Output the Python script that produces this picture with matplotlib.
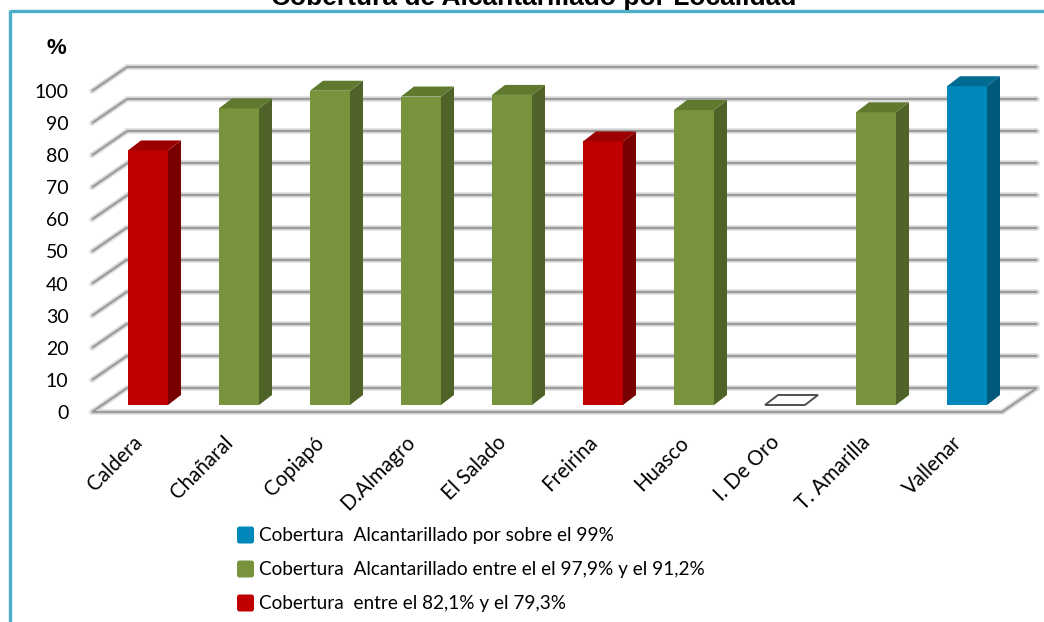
import matplotlib
matplotlib.use("Agg")
import matplotlib.pyplot as plt
from matplotlib.patches import Polygon, FancyBboxPatch
from matplotlib.lines import Line2D

# ---- data -------------------------------------------------------------
localidades = ["Caldera", "Chañaral", "Copiapó", "D.Almagro", "El Salado",
               "Freirina", "Huasco", "I. De Oro", "T. Amarilla", "Vallenar"]
cobertura = [79.3, 92.4, 97.9, 96.1, 96.6, 82.1, 91.9, 0.0, 91.2, 99.3]
grupo = ["bajo", "medio", "medio", "medio", "medio",
         "bajo", "medio", "medio", "medio", "alto"]
y_ticks = [0, 10, 20, 30, 40, 50, 60, 70, 80, 90, 100]

leyenda_grupos = ["alto", "medio", "bajo"]
leyenda_textos = [
    "Cobertura  Alcantarillado por sobre el 99%",
    "Cobertura  Alcantarillado entre el el 97,9% y el 91,2%",
    "Cobertura  entre el 82,1% y el 79,3%",
]
titulo = "Cobertura de Alcantarillado por Localidad"

# ---- styling ----------------------------------------------------------
colores = {
    "alto":  {"front": "#0088BB", "side": "#00587A", "top": "#006C92"},
    "medio": {"front": "#77933C", "side": "#4F6228", "top": "#5F7A2F"},
    "bajo":  {"front": "#C00000", "side": "#780000", "top": "#9C0000"},
}
GRID = "#9C9C9C"
GRID_HALO = "#DCDCDC"
BORDER = "#4BAFC6"

plt.rcParams["font.family"] = ["Lato", "DejaVu Sans"]

W, H = 1044, 622
fig = plt.figure(figsize=(W / 100, H / 100), dpi=100)

# overlay in pixel coordinates for frame, title and legend
ov = fig.add_axes([0, 0, 1, 1], zorder=0)
ov.set_xlim(0, W)
ov.set_ylim(H, 0)
ov.axis("off")

# chart frame (runs off the right and bottom edges)
ov.add_line(Line2D([9.5, W + 5], [11, 11], color=BORDER, lw=2.4, solid_capstyle="butt"))
ov.add_line(Line2D([9.5, 9.5], [9.8, H + 5], color=BORDER, lw=2.4, solid_capstyle="butt"))

ov.text(534, 5, titulo, ha="center", va="baseline", fontsize=19,
        fontweight="bold", family=["Liberation Sans", "DejaVu Sans"])
ov.text(56, 49, "%", ha="center", va="center", fontsize=16,
        fontweight="bold", family=["Liberation Sans", "DejaVu Sans"])

# legend
for k, (g, txt) in enumerate(zip(leyenda_grupos, leyenda_textos)):
    yc = 535 + k * 34
    ov.add_patch(FancyBboxPatch((237, yc - 8.5), 17, 17,
                                boxstyle="round,pad=0,rounding_size=2.5",
                                facecolor=colores[g]["front"], edgecolor="none"))
    ov.text(259, yc, txt, ha="left", va="center", fontsize=13.7, color="#000000")

# ---- main axes (front plane: slot 91 px, 3.21 px per percent) ---------
SLOT_PX, UNIT_PX = 91.0, 3.21
X0_PX, Y0_PX = 92, 412
L_PX, R_PX, T_PX, B_PX = 92, 1040, 50, 420
ax = fig.add_axes([L_PX / W, (H - B_PX) / H, (R_PX - L_PX) / W, (B_PX - T_PX) / H], zorder=1)
ax.patch.set_alpha(0)
ax.set_xlim((L_PX - X0_PX) / SLOT_PX, (R_PX - X0_PX) / SLOT_PX)
ax.set_ylim((Y0_PX - B_PX) / UNIT_PX, (Y0_PX - T_PX) / UNIT_PX)
for s in ax.spines.values():
    s.set_visible(False)

n = len(localidades)
WALL_DX, WALL_DY = 35 / SLOT_PX, 24 / UNIT_PX
BAR_X0, BAR_W = 36 / SLOT_PX, 40 / SLOT_PX
BAR_BASE = 7 / UNIT_PX
BAR_DX, BAR_DY = 13 / SLOT_PX, 10 / UNIT_PX


def grid_line(xs, ys):
    ax.plot(xs, ys, color=GRID_HALO, lw=4.0, solid_capstyle="round", zorder=1, clip_on=False)
    ax.plot(xs, ys, color=GRID, lw=1.6, solid_capstyle="butt", zorder=1.5, clip_on=False)


# back wall gridlines and the diagonal side-wall ticks
for t in y_ticks:
    grid_line([WALL_DX, n + WALL_DX], [t + WALL_DY, t + WALL_DY])
    if t > 0:
        grid_line([0, WALL_DX], [t, t + WALL_DY])

# floor
grid_line([0, n, n + WALL_DX], [0, 0, WALL_DY])
grid_line([0, WALL_DX], [0, WALL_DY])

# bars: front faces from the axes' bar method, then side and top faces
x_left = [i + BAR_X0 for i in range(n)]
front = [colores[g]["front"] for g in grupo]
ax.bar(x_left, cobertura, width=BAR_W, bottom=BAR_BASE, align="edge",
       color=front, linewidth=0, zorder=3)

for xl, v, g in zip(x_left, cobertura, grupo):
    xr = xl + BAR_W
    yt = BAR_BASE + v
    top = [(xl, yt), (xr, yt), (xr + BAR_DX, yt + BAR_DY), (xl + BAR_DX, yt + BAR_DY)]
    if v == 0:
        ax.add_patch(Polygon(top, closed=True, facecolor="white",
                             edgecolor="#505050", lw=1.4, zorder=3, clip_on=False))
        continue
    side = [(xr, BAR_BASE), (xr + BAR_DX, BAR_BASE + BAR_DY),
            (xr + BAR_DX, yt + BAR_DY), (xr, yt)]
    ax.add_patch(Polygon(side, closed=True, facecolor=colores[g]["side"],
                         edgecolor="none", zorder=3, clip_on=False))
    ax.add_patch(Polygon(top, closed=True, facecolor=colores[g]["top"],
                         edgecolor="none", zorder=3, clip_on=False))

# axis labels
ax.set_yticks(y_ticks)
ax.set_yticklabels([str(t) for t in y_ticks], fontsize=14)
ax.tick_params(axis="y", length=0, pad=17)

ax.set_xticks([i + 0.52 for i in range(n)])
ax.set_xticklabels(localidades, fontsize=14.8)
ax.tick_params(axis="x", length=0, pad=14)
for lab in ax.get_xticklabels():
    lab.set_rotation(45)
    lab.set_ha("right")
    lab.set_va("center")
    lab.set_rotation_mode("anchor")

fig.savefig("out.png", dpi=100)
